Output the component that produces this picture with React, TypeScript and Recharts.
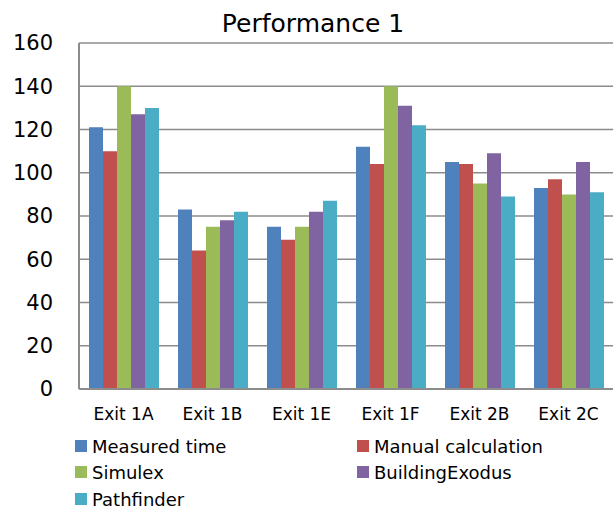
import React from 'react';
import { BarChart, Bar, XAxis, YAxis, CartesianGrid } from 'recharts';

const categories = ['Exit 1A', 'Exit 1B', 'Exit 1E', 'Exit 1F', 'Exit 2B', 'Exit 2C'];
const measuredTime = [121, 83, 75, 112, 105, 93];
const manualCalculation = [110, 64, 69, 104, 104, 97];
const simulex = [140, 75, 75, 140, 95, 90];
const buildingExodus = [127, 78, 82, 131, 109, 105];
const pathfinder = [130, 82, 87, 122, 89, 91];
const yTicks = [0, 20, 40, 60, 80, 100, 120, 140, 160];

const series = [
  { key: 'measured', name: 'Measured time', values: measuredTime, color: '#4F81BD' },
  { key: 'manual', name: 'Manual calculation', values: manualCalculation, color: '#C0504D' },
  { key: 'simulex', name: 'Simulex', values: simulex, color: '#9BBB59' },
  { key: 'exodus', name: 'BuildingExodus', values: buildingExodus, color: '#8064A2' },
  { key: 'pathfinder', name: 'Pathfinder', values: pathfinder, color: '#4BACC6' },
];

const data = categories.map((name, i) => {
  const row: any = { name };
  series.forEach((s) => {
    row[s.key] = s.values[i];
  });
  return row;
});

const font = '"DejaVu Sans", sans-serif';

// legend slots: two columns, three rows
const legendPos = [
  { left: 75, top: 446 },
  { left: 357, top: 446 },
  { left: 75, top: 472 },
  { left: 357, top: 472 },
  { left: 75, top: 499 },
];

export default function App() {
  return (
    <div style={{ position: 'absolute', left: 0, top: 0, width: 613, height: 511, background: '#fff', fontFamily: font, overflow: 'hidden' }}>
      <div style={{ position: 'absolute', left: 0, top: 11, width: 626, textAlign: 'center', fontSize: 25, lineHeight: '25px', color: '#000' }}>
        Performance 1
      </div>
      <BarChart
        width={613}
        height={430}
        data={data}
        margin={{ top: 43, right: 0, left: 0, bottom: 0 }}
        barCategoryGap={10}
        barGap={0}
      >
        <CartesianGrid vertical={false} stroke="#8c8c8c" strokeWidth={1.5} />
        <XAxis
          dataKey="name"
          height={41}
          tickLine={false}
          tickSize={0}
          tickMargin={19}
          axisLine={{ stroke: '#8c8c8c', strokeWidth: 2 }}
          tick={{ fill: '#000', fontSize: 17, fontFamily: font }}
          interval={0}
        />
        <YAxis
          width={79}
          domain={[0, 160]}
          ticks={yTicks}
          tickLine={false}
          tickSize={0}
          tickMargin={26}
          axisLine={{ stroke: '#8c8c8c', strokeWidth: 2 }}
          tick={{ fill: '#000', fontSize: 21, fontFamily: font }}
        />
        {series.map((s) => (
          <Bar key={s.key} dataKey={s.key} name={s.name} fill={s.color} isAnimationActive={false} />
        ))}
      </BarChart>
      {series.map((s, i) => (
        <div
          key={s.key}
          style={{ position: 'absolute', left: legendPos[i].left, top: legendPos[i].top - 13, height: 26, display: 'flex', alignItems: 'center', fontSize: 18, color: '#000' }}
        >
          <span style={{ display: 'inline-block', width: 12, height: 12, background: s.color, marginRight: 5 }} />
          <span>{s.name}</span>
        </div>
      ))}
    </div>
  );
}
